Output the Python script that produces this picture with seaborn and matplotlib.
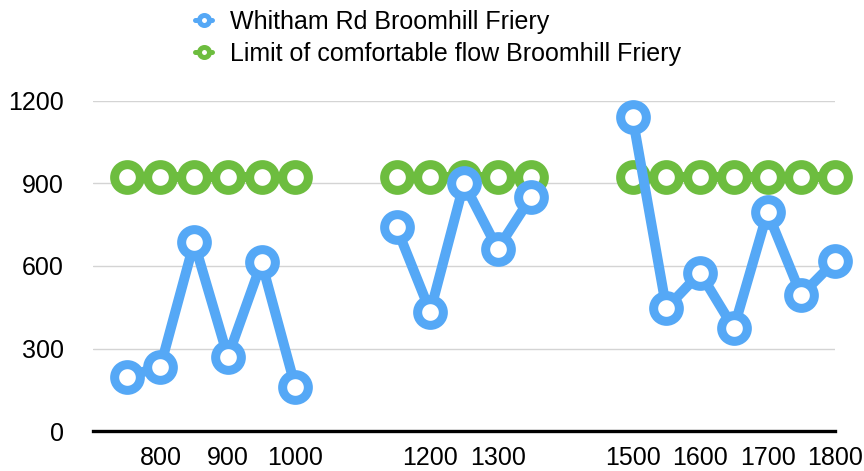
import matplotlib
matplotlib.use("Agg")
import matplotlib.pyplot as plt
from matplotlib.lines import Line2D
import pandas as pd
import seaborn as sns

# Sampling positions, three separate survey blocks
x_positions = [750, 800, 850, 900, 950, 1000,
               1150, 1200, 1250, 1300, 1350,
               1500, 1550, 1600, 1650, 1700, 1750, 1800]
block = [1, 1, 1, 1, 1, 1,
         2, 2, 2, 2, 2,
         3, 3, 3, 3, 3, 3, 3]

flow_values = [197, 234, 686, 270, 613, 161,
               740, 434, 900, 662, 852,
               1140, 446, 575, 373, 795, 494, 618]
limit_values = [925] * 18

x_ticks = [800, 900, 1000, 1200, 1300, 1500, 1600, 1700, 1800]
y_ticks = [0, 300, 600, 900, 1200]

flow_label = "Whitham Rd Broomhill Friery"
limit_label = "Limit of comfortable flow Broomhill Friery"

blue = "#55a8f6"
green = "#6dbd3f"

df = pd.DataFrame({"x": x_positions, "block": block,
                   "flow": flow_values, "limit": limit_values})

sns.set_theme(style="white")
plt.rcParams["font.family"] = ["Liberation Sans", "DejaVu Sans"]

fig = plt.figure(figsize=(8.64, 4.71), dpi=100)
ax = fig.add_axes([0.1076, 0.0849, 0.8588, 0.7007])

mk = dict(marker="o", markersize=18.5, markeredgewidth=6.5,
          markerfacecolor="white", linewidth=7.2, clip_on=False)

sns.lineplot(data=df, x="x", y="limit", units="block", estimator=None,
             color=green, markeredgecolor=green, ax=ax, legend=False,
             zorder=3, **mk)
sns.lineplot(data=df, x="x", y="flow", units="block", estimator=None,
             color=blue, markeredgecolor=blue, ax=ax, legend=False,
             zorder=4, **mk)

ax.set_xlim(700, 1800)
ax.set_ylim(0, 1200)
ax.set_xticks(x_ticks)
ax.set_xticklabels([str(t) for t in x_ticks])
ax.set_yticks(y_ticks)
ax.set_yticklabels([str(t) for t in y_ticks])
ax.set_xlabel("")
ax.set_ylabel("")

ax.yaxis.grid(True, color="#d4d4d4", linewidth=1.0, zorder=0)
ax.xaxis.grid(False)
for side in ["left", "right", "top"]:
    ax.spines[side].set_visible(False)
ax.spines["bottom"].set_color("black")
ax.spines["bottom"].set_linewidth(2.4)
ax.spines["bottom"].set_zorder(5)
ax.tick_params(axis="both", length=0, labelsize=18, colors="black")
ax.tick_params(axis="y", pad=21)
ax.tick_params(axis="x", pad=11)

handles = [
    Line2D([], [], color=blue, linewidth=3.6, marker="o", markersize=7.2,
           markeredgewidth=3.6, markerfacecolor="white", markeredgecolor=blue),
    Line2D([], [], color=green, linewidth=3.6, marker="o", markersize=7.2,
           markeredgewidth=3.6, markerfacecolor="white", markeredgecolor=green),
]
leg = fig.legend(handles, [flow_label, limit_label], loc="upper left",
                 bbox_to_anchor=(0.214, 1.0), frameon=False, fontsize=18,
                 handlelength=0.7, handletextpad=0.7, labelspacing=0.3,
                 borderaxespad=0)
for t in leg.get_texts():
    t.set_color("black")

fig.savefig("out.png", dpi=100)
